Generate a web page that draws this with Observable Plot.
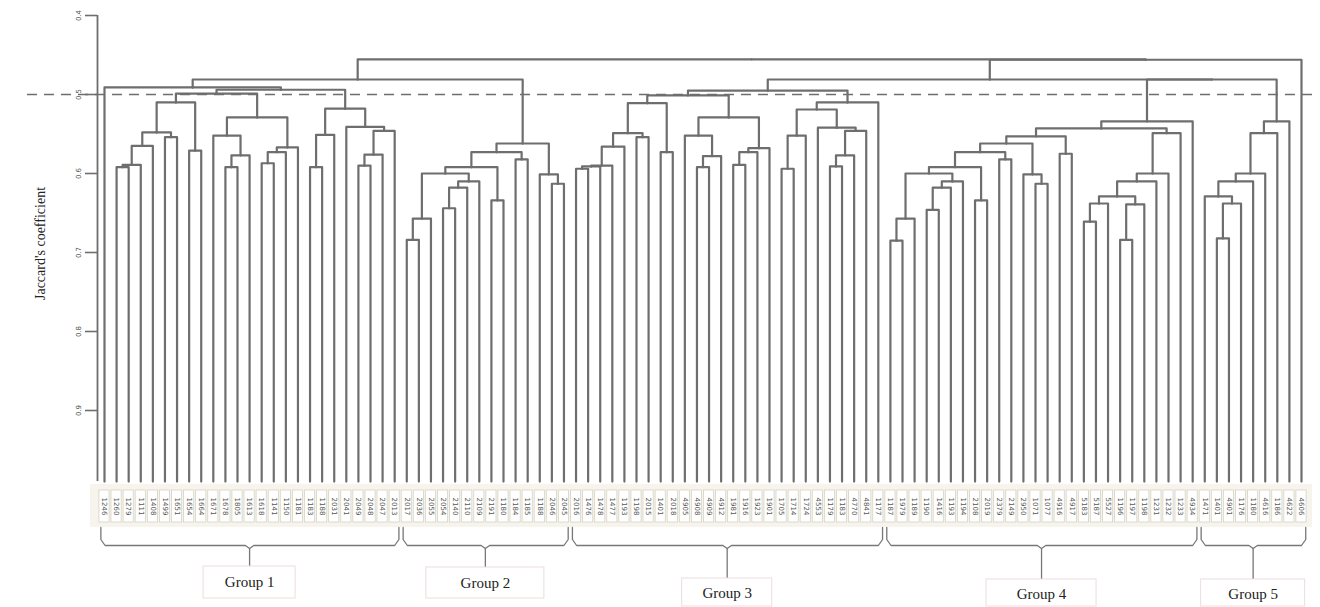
<!DOCTYPE html>
<html><head><meta charset="utf-8">
<script src="https://cdn.jsdelivr.net/npm/d3@7"></script>
<script src="https://cdn.jsdelivr.net/npm/@observablehq/plot@0.6"></script>
<style>body{margin:0;background:#fff} svg{display:block}</style>
</head><body><div id="chart"></div>
<script>
// ---------------- data ----------------
const leafLabels = [
  "1246","1260","1279","1111","1408","1499","1651","1654","1664","1671","1678","1805","1613","1618","1141","1150","1181","1183","1188","2031","2041","2049","2048","2047","2013",
  "2017","2036","2055","2054","2140","2110","2109","2191","1180","1184","1185","1188","2046","2045",
  "2016","1476","1478","1477","1193","1198","2015","1401","2018","4905","4908","4909","4912","1981","1916","1923","1901","1705","1714","1724","4553","1179","1183","4770","4841","1177",
  "1187","1979","1189","1190","1416","1193","1194","2108","2019","2379","2149","2950","1071","1077","4916","4917","5183","5187","5527","1196","1197","1198","1231","1232","1233","4934",
  "1471","1401","4901","1176","1180","4616","1186","4622","4606"
];
const groupNames = ["Group 1","Group 2","Group 3","Group 4","Group 5"];
const groupSizes = [25, 14, 26, 26, 9];
const yTicks = [0.4, 0.5, 0.6, 0.7, 0.8, 0.9];
const cutoff = 0.5;
const leafHeight = 0.99;

// merges inside each group: [a, b, height]; numbers = leaf (local index), "nK" = K-th merge of the group
const group1Merges = [
  [1,2,0.592],["n1",3,0.589],["n2",4,0.565],[5,6,0.554],["n3","n4",0.548],[7,8,0.571],["n5","n6",0.510],
  [10,11,0.592],["n8",12,0.577],[9,"n9",0.552],[13,14,0.587],["n11",15,0.573],["n12",16,0.567],["n10","n13",0.529],
  ["n7","n14",0.499],
  [17,18,0.592],["n16",19,0.551],[21,22,0.590],["n18",23,0.576],["n19",24,0.546],[20,"n20",0.541],["n17","n21",0.518],
  ["n15","n22",0.494],[0,"n23",0.491]
];
const group2Merges = [
  [0,1,0.684],["n1",2,0.657],[3,4,0.644],["n3",5,0.618],["n4",6,0.610],["n2","n5",0.600],[7,8,0.634],
  ["n6","n7",0.592],[9,10,0.582],["n8","n9",0.573],[12,13,0.613],[11,"n11",0.601],["n10","n12",0.562]
];
const group3Merges = [
  [0,1,0.594],["n1",2,0.591],["n2",3,0.590],["n3",4,0.566],[5,6,0.554],["n4","n5",0.549],[7,8,0.573],["n6","n7",0.511],
  [10,11,0.592],["n9",12,0.578],[9,"n10",0.552],[13,14,0.589],["n12",15,0.573],["n13",16,0.568],["n11","n14",0.529],
  ["n8","n15",0.501],
  [17,18,0.594],["n17",19,0.552],[21,22,0.591],["n19",23,0.577],["n20",24,0.546],[20,"n21",0.542],["n18","n22",0.519],
  ["n23",25,0.510],["n16","n24",0.495]
];
const group4Merges = [
  [0,1,0.685],["n1",2,0.657],[3,4,0.646],["n3",5,0.618],["n4",6,0.610],["n2","n5",0.600],[7,8,0.634],
  ["n6","n7",0.592],[9,10,0.582],["n8","n9",0.573],[12,13,0.613],[11,"n11",0.601],["n10","n12",0.562],
  [14,15,0.575],["n13","n14",0.553],
  [16,17,0.661],["n16",18,0.638],[19,20,0.684],["n18",21,0.639],["n17","n19",0.629],["n20",22,0.610],["n21",23,0.600],["n22",24,0.549],
  ["n15","n23",0.543],["n24",25,0.534]
];
const group5Merges = [
  [1,2,0.682],["n1",3,0.638],[0,"n2",0.629],["n3",4,0.610],["n4",5,0.600],["n5",6,0.549],["n6",7,0.534]
];
// top-level merges: "Gk" = group root, "Lk" = global leaf, "Tk" = k-th top merge
const topMerges = [
  ["G1","G2",0.481],["G4","G5",0.481],["G3","T2",0.481],["T3","L99",0.456],["T1","T4",0.4555]
];
const groupMerges = [group1Merges, group2Merges, group3Merges, group4Merges, group5Merges];

// ---------------- layout helpers ----------------
const xpx = p => (p - 104) / 12.09;          // pixel -> x units (leaf index)
const ypx = p => 0.4 + (p - 15) / 790;       // pixel -> y units
const labelBoxTop = [566, 567, 578, 579, 579];
const labelBoxBottom = [598, 598, 606, 606, 606];
const labelTextY = [582, 583, 593, 594, 594];
const labelBoxHalf = [46, 59, 45, 55, 52];

// ---------------- build dendrogram ----------------
const leaves = leafLabels.map((label, i) => ({x: i, h: leafHeight, label}));
const elbows = [];
let segId = 0;
function join(a, b, h) {
  const p = {x: (a.x + b.x) / 2, h};
  for (const c of [a, b]) {
    const id = segId++;
    elbows.push({id, x: c.x, y: c.h}, {id, x: c.x, y: h}, {id, x: p.x, y: h});
  }
  return p;
}
const roots = {};
let offset = 0;
const groups = [];
groupMerges.forEach((merges, g) => {
  const made = [];
  const ref = r => typeof r === "number" ? leaves[offset + r] : made[+r.slice(1) - 1];
  for (const [a, b, h] of merges) made.push(join(ref(a), ref(b), h));
  roots["G" + (g + 1)] = made[made.length - 1];
  groups.push({name: groupNames[g], start: offset, end: offset + groupSizes[g] - 1, g});
  offset += groupSizes[g];
});
const tops = [];
const topRef = r => r[0] === "G" ? roots[r] : r[0] === "L" ? leaves[+r.slice(1)] : tops[+r.slice(1) - 1];
for (const [a, b, h] of topMerges) tops.push(join(topRef(a), topRef(b), h));

// braces
const braces = [];
groups.forEach(({start, end, g}) => {
  const s = start - 0.3, e = end + 0.35, c = (start + end) / 2;
  const pts = [[s,527],[s,539],[s+0.35,545],[c-0.35,545],[c,548],[c,labelBoxTop[g]]];
  const pts2 = [[c,548],[c+0.35,545],[e-0.35,545],[e,539],[e,527]];
  pts.forEach(([x,y]) => braces.push({id: g*2, x, y: ypx(y)}));
  pts2.forEach(([x,y]) => braces.push({id: g*2+1, x, y: ypx(y)}));
});

const gray = "#6e6e6e";
const svg = Plot.plot({
  width: 1320, height: 607, margin: 0,
  x: {domain: [0, 99], range: [104, 1301], axis: null},
  y: {domain: [0.4, 0.4 + 592/790], range: [15, 607], axis: null},
  marks: [
    // label strip
    Plot.rect([0], {x1: xpx(90), x2: xpx(1312), y1: ypx(484), y2: ypx(527), fill: "#f6f4ec"}),
    Plot.rect(leaves, {x1: d => d.x - 0.42, x2: d => d.x + 0.42, y1: ypx(490), y2: ypx(522), fill: "white", stroke: "#d6d3c4", strokeWidth: 0.8}),
    Plot.text(leaves, {x: "x", y: ypx(506), text: "label", rotate: 90, fontSize: 7, fill: "#555", fontFamily: "DejaVu Sans", ariaLabel: "leaf labels"}),
    // dendrogram
    Plot.line(elbows, {x: "x", y: "y", z: "id", stroke: gray, strokeWidth: 2.2, strokeLinejoin: "round", strokeLinecap: "round"}),
    // cut-off line
    Plot.ruleY([cutoff], {x1: xpx(27), x2: xpx(1312), stroke: gray, strokeWidth: 1.6, strokeDasharray: "10,7"}),
    // axis
    Plot.ruleX([xpx(97)], {y1: yTicks[0], y2: leafHeight, stroke: gray, strokeWidth: 1.8}),
    Plot.ruleY(yTicks, {x1: xpx(85), x2: xpx(97), stroke: gray, strokeWidth: 1.6}),
    Plot.text(yTicks, {x: xpx(78), y: d => d, text: d => d.toFixed(1), rotate: -90, fontSize: 7, fill: "#555", fontFamily: "DejaVu Sans"}),
    Plot.text(["Jaccard's coefficient"], {x: xpx(40), y: ypx(243), text: d => d, rotate: -90, fontSize: 14, fill: "#222", fontFamily: "Liberation Serif"}),
    // braces & group labels
    Plot.line(braces, {x: "x", y: "y", z: "id", stroke: "#777", strokeWidth: 1.3, strokeLinejoin: "round"}),
    Plot.rect(groups, {x1: d => (d.start + d.end)/2 - labelBoxHalf[d.g]/12.09, x2: d => (d.start + d.end)/2 + labelBoxHalf[d.g]/12.09,
      y1: d => ypx(labelBoxTop[d.g]), y2: d => ypx(labelBoxBottom[d.g]), fill: "white", stroke: "#eadede", strokeWidth: 1}),
    Plot.text(groups, {x: d => (d.start + d.end)/2, y: d => ypx(labelTextY[d.g]), text: "name", fontSize: 15, fill: "#222", fontFamily: "Liberation Serif"})
  ]
});
d3.select(svg).selectAll('g[aria-label="leaf labels"] text').attr("letter-spacing", "1.2px");
document.getElementById("chart").appendChild(svg);
</script>
</body></html>
